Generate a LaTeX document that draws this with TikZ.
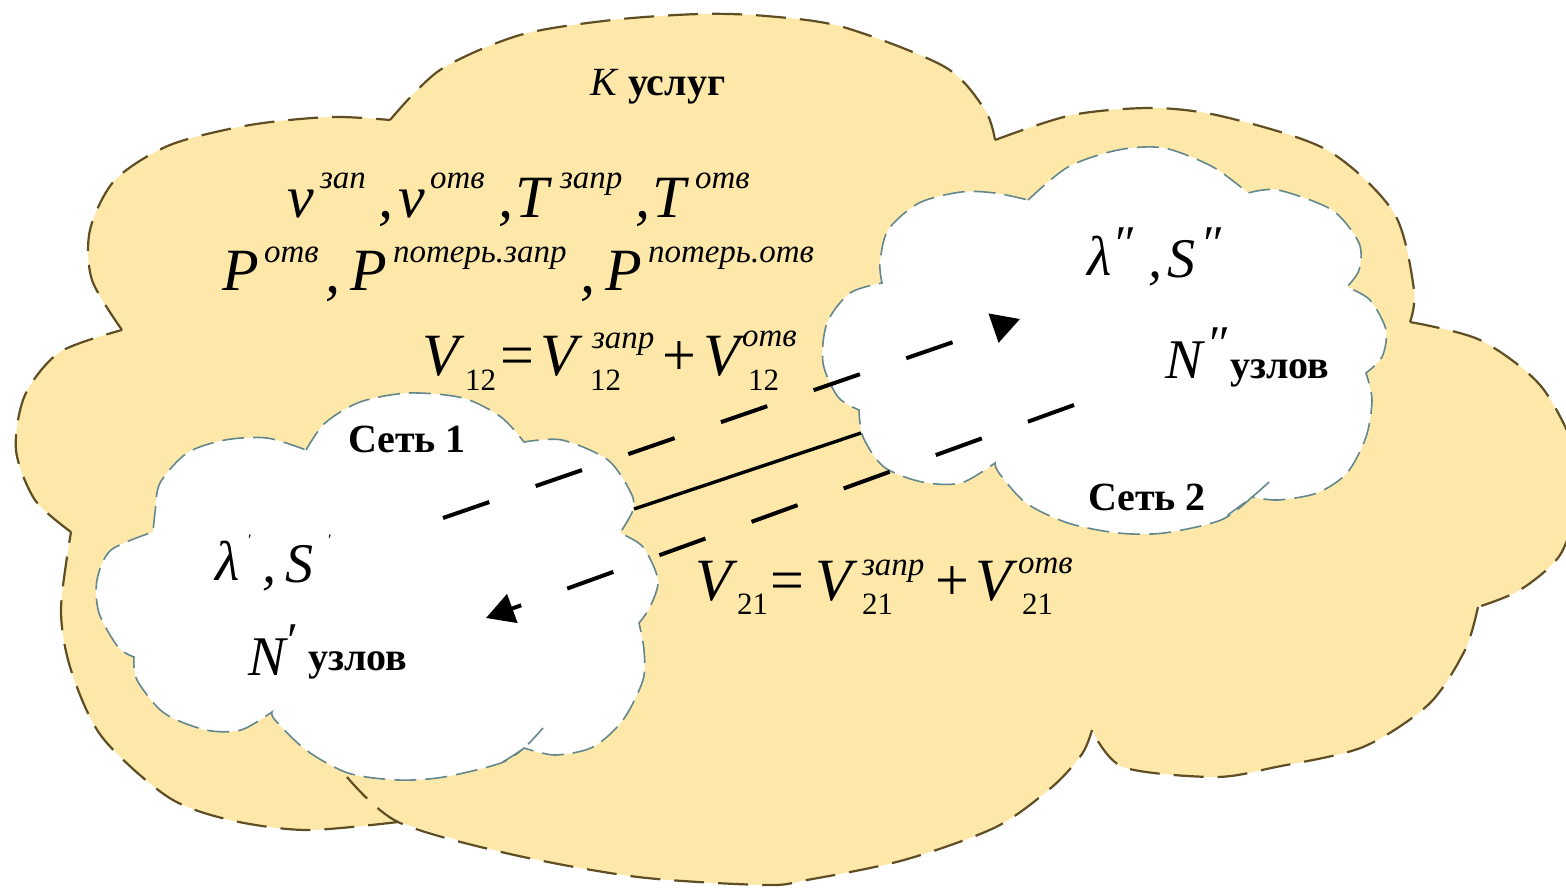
\documentclass[tikz,border=0pt]{standalone}
\usepackage{fontspec}
\setmainfont{Liberation Serif}
\usetikzlibrary{arrows.meta}
\definecolor{cloudY}{RGB}{253,232,170}
\definecolor{cloudE}{RGB}{95,78,35}
\definecolor{cloudG}{RGB}{100,135,140}
\begin{document}
\begin{tikzpicture}[x=1pt,y=-1pt,
  bigcloud/.style={fill=cloudY},
  bigedge/.style={draw=cloudE, line width=2.2pt, dash pattern=on 30pt off 14pt},
  netcloud/.style={fill=white, draw=cloudG, line width=1.6pt, dash pattern=on 22pt off 9pt},
  netedge/.style={draw=cloudG, line width=1.6pt, dash pattern=on 22pt off 9pt},
  flow/.style={line width=4pt, dash pattern=on 49pt off 49pt, -{Triangle[length=28pt,width=30pt]}},
  link/.style={line width=3.4pt},
  txt/.style={inner sep=0pt, outer sep=0pt, anchor=base west},
  mathbig/.style={txt, font=\fontsize{60}{70}\selectfont\itshape},
  supx/.style={txt, font=\fontsize{33}{38}\selectfont\itshape},
  subx/.style={txt, font=\fontsize{31}{36}\selectfont},
  oper/.style={txt, font=\fontsize{60}{70}\selectfont},
  lbl/.style={txt, font=\fontsize{40}{48}\selectfont\bfseries},
  midm/.style={txt, font=\fontsize{56}{66}\selectfont\itshape},
  prm/.style={txt, font=\fontsize{50}{56}\selectfont\itshape},
  tinyprm/.style={txt, font=\fontsize{16}{18}\selectfont\itshape}]
\useasboundingbox (0,0) rectangle (1566,887);
\fill[white] (0,0) rectangle (1566,887);

% ---- big cloud (services)
\path[bigcloud]
  plot[smooth] coordinates {(390,120) (440,70) (520,35) (612,20) (700,14) (766,16) (843,27) (945,67) (985,110) (995,140)}
  -- plot[smooth] coordinates {(995,140) (1072,115) (1154,108) (1225,117) (1327,150) (1394,213) (1414,290) (1410,322)}
  -- plot[smooth] coordinates {(1410,322) (1480,340) (1540,385) (1575,450) (1578,500) (1560,555) (1520,590) (1478,607)}
  -- plot[smooth] coordinates {(1478,607) (1465,650) (1429,704) (1363,747) (1276,767) (1215,777) (1123,767) (1092,730)}
  -- plot[smooth] coordinates {(1092,730) (1082,754) (1052,787) (996,827) (904,860) (807,880) (765,885) (638,877) (510,854) (398,822)}
  -- plot[smooth] coordinates {(398,822) (306,830) (230,820) (168,797) (102,737) (71,670) (61,610) (71,532)}
  -- plot[smooth] coordinates {(71,532) (35,500) (16,450) (25,395) (60,352) (122,330)}
  -- plot[smooth] coordinates {(122,330) (92,280) (90,230) (115,180) (170,145) (250,125) (330,117) (390,120)}
  -- cycle;
\draw[bigedge] plot[smooth] coordinates {(390,120) (440,70) (520,35) (612,20) (700,14) (766,16) (843,27) (945,67) (985,110) (995,140)};
\draw[bigedge] plot[smooth] coordinates {(995,140) (1072,115) (1154,108) (1225,117) (1327,150) (1394,213) (1414,290) (1410,322)};
\draw[bigedge] plot[smooth] coordinates {(1410,322) (1480,340) (1540,385) (1575,450) (1578,500) (1560,555) (1520,590) (1478,607)};
\draw[bigedge] plot[smooth] coordinates {(1478,607) (1465,650) (1429,704) (1363,747) (1276,767) (1215,777) (1123,767) (1092,730)};
\draw[bigedge] plot[smooth] coordinates {(1092,730) (1082,754) (1052,787) (996,827) (904,860) (807,880) (765,885) (638,877) (510,854) (398,822) (347,777)};
\draw[bigedge] plot[smooth] coordinates {(398,822) (306,830) (230,820) (168,797) (102,737) (71,670) (61,610) (71,532)};
\draw[bigedge] plot[smooth] coordinates {(71,532) (35,500) (16,450) (25,395) (60,352) (122,330)};
\draw[bigedge] plot[smooth] coordinates {(122,330) (92,280) (90,230) (115,180) (170,145) (250,125) (330,117) (390,120)};

% ---- network 1 cloud
\path[netcloud]
  plot[smooth] coordinates {(306,450) (325,423) (360,402) (409,393) (463,398) (501,417) (524,442)}
  -- plot[smooth] coordinates {(524,442) (562,440) (608,460) (631,493) (633,510) (620,533)}
  -- plot[smooth] coordinates {(620,533) (643,547) (658,580) (650,607) (639,623)}
  -- plot[smooth] coordinates {(639,623) (644,650) (643,680) (623,720) (593,747) (555,755) (524,748)}
  -- plot[smooth] coordinates {(524,748) (501,763) (444,777) (398,780) (348,773) (306,750) (275,720) (272,712)}
  -- plot[smooth] coordinates {(272,712) (241,730) (206,730) (164,713) (137,680) (134,657)}
  -- plot[smooth] coordinates {(134,657) (118,647) (99,613) (97,580) (111,550) (153,532)}
  -- plot[smooth] coordinates {(153,532) (155,513) (160,483) (187,453) (225,440) (267,438) (306,450)}
  -- cycle;
\draw[netedge] plot[smooth] coordinates {(543,728) (524,748) (501,763)};

% ---- network 2 cloud
\path[netcloud]
  plot[smooth] coordinates {(1028,200) (1068,167) (1118,150) (1164,148) (1213,167) (1248,193)}
  -- plot[smooth] coordinates {(1248,193) (1278,190) (1332,210) (1359,243) (1359,270) (1347,287)}
  -- plot[smooth] coordinates {(1347,287) (1370,300) (1386,330) (1382,357) (1366,373)}
  -- plot[smooth] coordinates {(1366,373) (1372,400) (1366,437) (1347,473) (1317,493) (1278,500) (1252,497)}
  -- plot[smooth] coordinates {(1252,497) (1221,520) (1164,533) (1118,533) (1068,523) (1026,503) (999,473) (995,463)}
  -- plot[smooth] coordinates {(995,463) (961,483) (922,482) (884,467) (863,437) (859,410)}
  -- plot[smooth] coordinates {(859,410) (838,397) (823,363) (827,323) (850,293) (882,283)}
  -- plot[smooth] coordinates {(882,283) (880,263) (888,230) (919,203) (961,192) (995,193) (1028,200)}
  -- cycle;
\draw[netedge] plot[smooth] coordinates {(1269,482) (1252,497) (1221,520)};

% ---- connectors
\coordinate (n1port) at (634,509);
\coordinate (n2port) at (861,433);
\coordinate (fwdA) at (443,518);
\coordinate (fwdB) at (1020,319);
\coordinate (bckA) at (1074,405);
\coordinate (bckB) at (486,618);
\draw[link] (n1port) -- (n2port);
\draw[flow] (fwdA) -- (fwdB);
\draw[flow] (bckA) -- (bckB);

% ---- K services
\node[txt, font=\fontsize{40}{48}\selectfont\itshape] (kk) at (590,95) {K};
\node[lbl] (kus) at (628,95) {услуг};

% ---- line 1
\node[mathbig] (nua) at (287,217) {ν};
\node[supx] (nuas) at (320,188) {зап};
\node[mathbig] (ca) at (378,217) {,};
\node[mathbig] (nub) at (398,217) {ν};
\node[supx] (nubs) at (430,188) {отв};
\node[mathbig] (cb) at (498,217) {,};
\node[mathbig] (ta) at (515,217) {T};
\node[supx] (tas) at (560,188) {запр};
\node[mathbig] (cc) at (635,217) {,};
\node[mathbig] (tb) at (652,217) {T};
\node[supx] (tbs) at (695,188) {отв};

% ---- line 2
\node[mathbig] (pa) at (222,290) {P};
\node[supx] (pas) at (264,262) {отв};
\node[mathbig] (cd) at (325,292) {,};
\node[mathbig] (pb) at (350,290) {P};
\node[supx] (pbs) at (393,262) {потерь.запр};
\node[mathbig] (ce) at (580,292) {,};
\node[mathbig] (pc) at (605,290) {P};
\node[supx] (pcs) at (648,262) {потерь.отв};

% ---- V12
\node[mathbig] (va) at (422,375) {V};
\node[subx] (vai) at (465,390) {12};
\node[oper] (eqa) at (500,375) {=};
\node[mathbig] (vb) at (540,375) {V};
\node[supx] (vbs) at (592,348) {запр};
\node[subx] (vbi) at (590,390) {12};
\node[oper] (pla) at (662,375) {+};
\node[mathbig] (vc) at (703,375) {V};
\node[supx] (vcs) at (742,346) {отв};
\node[subx] (vci) at (748,390) {12};

% ---- V21
\node[mathbig] (vd) at (695,600) {V};
\node[subx] (vdi) at (737,614) {21};
\node[oper] (eqb) at (770,600) {=};
\node[mathbig] (ve) at (815,600) {V};
\node[supx] (ves) at (862,575) {запр};
\node[subx] (vei) at (862,614) {21};
\node[oper] (plb) at (935,600) {+};
\node[mathbig] (vf) at (975,600) {V};
\node[supx] (vfs) at (1018,573) {отв};
\node[subx] (vfi) at (1022,614) {21};

% ---- network labels
\node[lbl] (net1) at (348,452) {Сеть 1};
\node[lbl] (net2) at (1088,510) {Сеть 2};

% ---- network 1 params
\node[midm] (lama) at (215,580) {λ};
\node[tinyprm] (lamap) at (247,545) {′};
\node[midm] (cf) at (262,582) {,};
\node[midm] (sa) at (285,582) {S};
\node[tinyprm] (sap) at (327,545) {′};
\node[midm] (na) at (248,675) {N};
\node[prm] (nap) at (284,657) {′};
\node[lbl] (uza) at (308,670) {узлов};

% ---- network 2 params
\node[midm] (lamb) at (1087,275) {λ};
\node[prm] (lambp) at (1112,260) {″};
\node[midm] (cg) at (1148,277) {,};
\node[midm] (sb) at (1167,277) {S};
\node[prm] (sbp) at (1200,260) {″};
\node[midm] (nb) at (1165,378) {N};
\node[prm] (nbp) at (1206,360) {″};
\node[lbl] (uzb) at (1230,378) {узлов};
\end{tikzpicture}
\end{document}
